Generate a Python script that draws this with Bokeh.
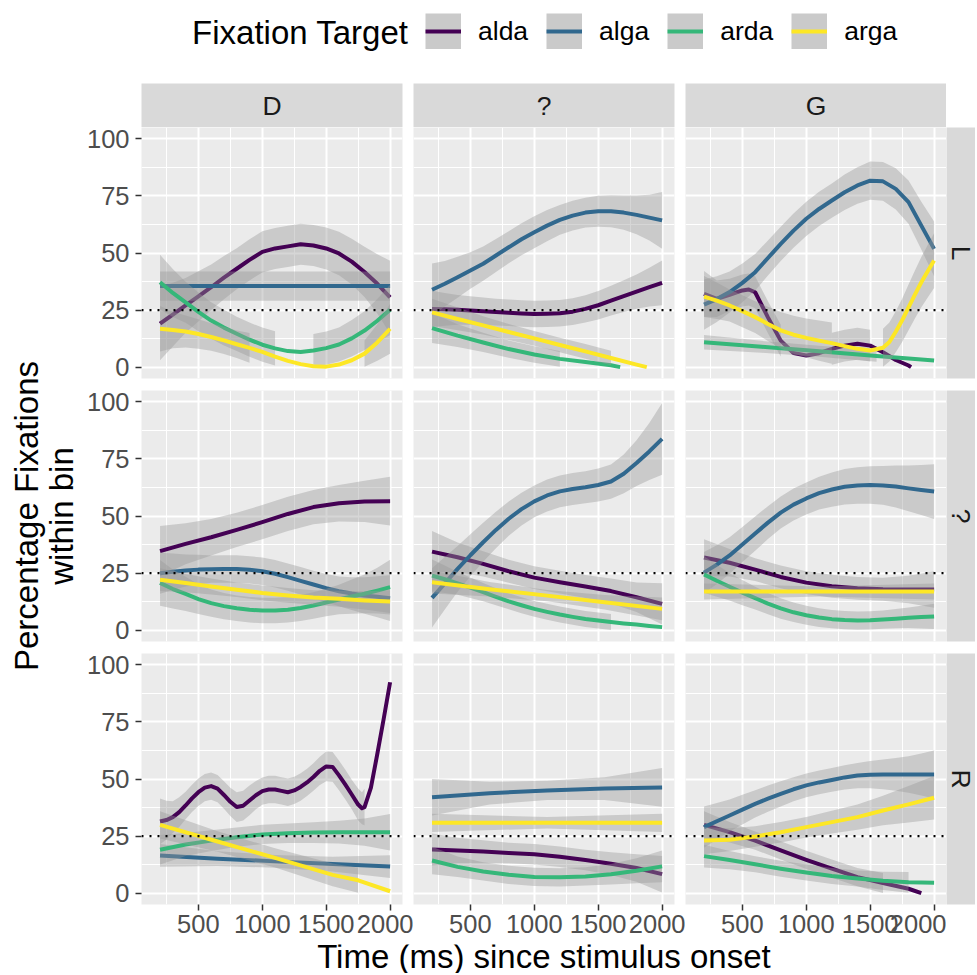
import numpy as np
from bokeh.plotting import figure
from bokeh.models import Range1d, FixedTicker, LinearAxis, Grid, Span, Label, Legend, LegendItem
from bokeh.layouts import column, row
from bokeh.embed import file_html
from bokeh.resources import INLINE

FONT = "Liberation Sans"

# ---------------- data ----------------
TARGETS = ["alda", "alga", "arda", "arga"]
COLORS = ["#440154", "#31688E", "#35B779", "#FDE725"]
COL_FACETS = ["D", "?", "G"]
ROW_FACETS = ["L", "?", "R"]
X_TICKS = [500, 1000, 1500, 2000]
X_MINOR = [250, 750, 1250, 1750]
Y_TICKS = [0, 25, 50, 75, 100]
Y_MINOR = [12.5, 37.5, 62.5, 87.5]
CHANCE = 25

T = [200, 400, 600, 800, 1000, 1200, 1400, 1600, 1800, 2000]
T100 = [200, 300, 400, 500, 600, 700, 800, 900, 1000, 1100, 1200, 1300, 1400, 1500,
        1600, 1700, 1800, 1900, 2000]
T2 = [200, 2000]
T3 = [200, 1100, 2000]
T5 = [200, 650, 1100, 1550, 2000]

# row L, column D
LD_alda = [19, 23, 27, 31, 35, 39.2, 43.1, 47, 50.5, 52, 52.9, 53.8, 53.3, 52, 49.8, 46.2, 41.7, 36.5, 30.6]
LD_alda_se = [16, 14, 12, 11, 10, 9.5, 9, 9, 9, 9, 9, 9, 9, 9.2, 9.5, 10, 11, 13, 16]
LD_alga = [35.5, 35.5]
LD_alga_se = [6.4, 6.4]
LD_arda = [37.2, 32.5, 28.4, 24.2, 20.4, 17.3, 14.6, 12.0, 9.8, 8.2, 7.0, 6.6, 7.3, 8.3, 9.9, 12.6, 16.0, 20.3, 25.1]
LD_arda_se = [12, 10.5, 9, 8.5, 8, 7.8, 7.5, 7.5, 7.5, 7.5, 7.5, 7.5, 7.2, 7.3, 7.5, 8, 8.5, 9.5, 11]
LD_arga = [16.8, 16.3, 15.6, 14.5, 13.2, 11.7, 10.0, 8.4, 6.7, 4.6, 2.7, 1.3, 0.4, 0.2, 1.1, 3.0, 5.9, 10.8, 16.8]
LD_arga_se = [10, 8, 7, 6.5, 6, 6, 6, 6.5, 7, 6, 6, 6, 6, 6, 6, 6, 5.8, 8, 11]

# row L, column ?
LQ_alda = [25.5, 25.3, 25.1, 24.8, 24.5, 24.1, 23.8, 23.5, 23.3, 23.4, 23.6, 24.3, 25.5, 27.1, 29.1, 31.1, 33.1, 35.0, 36.9]
LQ_alda_se = [8, 7.2, 6.5, 6.2, 6, 5.9, 5.8, 5.8, 5.8, 5.8, 5.8, 5.9, 6, 6.2, 6.5, 7, 7.5, 8.5, 9.8]
LQ_alga = [33.9, 36.5, 39.4, 42.3, 45.3, 48.9, 52.5, 56.0, 59.1, 62.0, 64.5, 66.4, 67.7, 68.3, 68.3, 67.7, 66.7, 65.5, 64.3]
LQ_alga_se = [11.5, 10, 9, 8, 7.5, 7.2, 7, 7, 7, 6.8, 6.5, 6.5, 6.5, 6.8, 7, 7.5, 8.5, 10, 12.4]
LQ_arda_t = [200, 400, 600, 800, 1000, 1200, 1400, 1600, 1672]
LQ_arda = [17.1, 13.8, 10.8, 7.9, 5.5, 3.6, 2.2, 0.8, 0.0]
LQ_arda_se = [6.5, 5, 4.2, 3.8, 3.6, 3.5, 3.5, 3.5, 3.5]
LQ_arga_t = [200, 400, 600, 800, 1000, 1200, 1400, 1600, 1800, 1880]
LQ_arga = [24.0, 21.1, 18.3, 15.4, 12.6, 9.7, 6.9, 4.0, 1.1, 0.0]
LQ_arga_se = [6, 5, 4, 3.5, 3.2, 3.2, 3.2, 3.2, 4, 4]

# row L, column G
LG_alda_t = [200, 300, 400, 500, 550, 600, 700, 800, 900, 1000, 1100, 1200, 1300,
             1400, 1500, 1600, 1700, 1800, 1820]
LG_alda = [32.1, 29.9, 31.7, 33.6, 34.0, 32.8, 21.8, 11.6, 6.2, 5.1, 6.1, 8.0, 9.4,
           10.2, 9.4, 6.5, 3.1, 0.7, 0.0]
LG_alda_se = [10, 8, 7, 7, 7, 7, 7, 7, 7, 7, 7, 7, 7, 7, 7, 7, 7, 7, 7]
LG_alga = [27.4, 29.8, 32.9, 36.9, 41.6, 47.8, 54.0, 59.8, 65.0, 69.3, 73.0, 76.6, 79.6, 81.7, 81.4, 78.1, 72.3, 62.0, 51.8]
LG_alga_se = [11, 10, 9, 8.5, 8, 7.7, 7.5, 7.5, 7.5, 7.5, 7.5, 7.8, 8, 8.4, 8.5, 9, 9.5, 10.5, 12]
LG_arda = [10.9, 8.9, 6.9, 4.9, 2.9]
LG_arda_se = [3.2, 2.6, 2.4, 2.6, 3.2]
LG_arga_t = [200, 300, 400, 500, 600, 700, 800, 900, 1000, 1100, 1200, 1300, 1400, 1500,
             1600, 1650, 1700, 1750, 1800, 1850, 1900, 1950, 2000]
LG_arga = [30.9, 29.1, 27.0, 24.5, 21.9, 18.9, 16.1, 14.2, 12.8, 11.6, 10.5, 9.2, 8.0, 7.3,
           8.5, 11.0, 15.5, 20.5, 26.2, 31.8, 37.2, 42.0, 46.7]
LG_arga_se = [9, 8, 7, 7, 7, 7.5, 8, 8.3, 8.5, 8.8, 9, 9.5, 8.8, 8.5,
              8.3, 8.5, 9, 9.5, 10, 10.5, 11, 11.5, 12]

# row ?, column D
QD_alda = [34.6, 37.8, 40.7, 43.9, 47.3, 50.9, 53.9, 55.6, 56.4, 56.5]
QD_alda_se = [11, 9, 8, 7.5, 7.5, 7.5, 7.5, 8, 9, 10.7]
QD_alga = [24.9, 25.6, 26.1, 26.5, 26.7, 26.8, 26.8, 26.4, 25.8, 24.7, 23.2, 21.6, 20.0, 18.4, 17.0, 16.0, 15.2, 14.6, 14.0]
QD_alga_se = [9, 8, 7, 6.5, 6, 6, 6, 6, 6, 6, 6, 6, 6, 6.2, 6.5, 7.2, 8, 9, 10]
QD_arda = [20.7, 18.0, 15.9, 13.6, 11.8, 10.5, 9.6, 8.9, 8.6, 8.6, 8.9, 9.7, 10.8, 12.1, 13.4, 14.7, 15.9, 17.3, 18.8]
QD_arda_se = [10, 8.5, 7.5, 6.5, 6, 5.8, 5.6, 5.6, 5.6, 5.6, 5.6, 5.7, 5.8, 6, 6.5, 7.5, 8.5, 10, 12]
QD_arga = [22.1, 20.6, 19.1, 17.7, 16.3, 15.2, 14.3, 13.7, 13.0, 12.5]
QD_arga_se = [5, 4, 3.5, 3.2, 3.2, 3.2, 3.2, 3.5, 4, 5]

# row ?, column ?
QQ_alda = [34.4, 31.9, 29.0, 25.8, 23.0, 21.0, 19.1, 17.1, 14.4, 11.5]
QQ_alda_se = [9, 6.5, 5.5, 5, 5, 5, 5, 5.5, 6.5, 9]
QQ_alga = [14.1, 20.5, 26.8, 32.8, 38.5, 43.9, 48.8, 53.0, 56.4, 59.0, 60.8, 61.8, 62.6, 63.6, 65.1, 68.5, 73.2, 78.3, 83.8]
QQ_alga_se = [13, 11.5, 10, 9.2, 8.5, 8, 7.5, 7.2, 7, 7, 7, 7, 7, 7.2, 7.5, 8.5, 10, 12.5, 15.7]
QQ_arda = [23.9, 22.3, 20.5, 18.6, 16.6, 14.6, 12.6, 10.9, 9.3, 8.0, 6.8, 5.8, 4.9, 4.2, 3.5, 2.9, 2.4, 1.8, 1.3]
QQ_arda_se = [7, 6, 5, 4.5, 4, 3.7, 3.5, 3.5, 3.5, 3.5, 3.5, 3.5, 3.5, 3.5, 3.5, 3.8, 4, 4.5, 5]
QQ_arga = [21.0, 17.9, 15.1, 12.2, 9.3]
QQ_arga_se = [5, 3.2, 2.5, 3.2, 5]

# row ?, column G
QG_alda = [31.8, 29.5, 26.5, 23.3, 20.8, 19.2, 18.3, 17.9, 17.8, 17.8]
QG_alda_se = [8, 6, 5, 5, 5, 5, 5, 5, 6, 8]
QG_alga = [25.2, 28.7, 32.7, 37.5, 42.3, 47.1, 51.5, 55.0, 57.7, 60.0, 61.6, 62.8, 63.4, 63.6, 63.4, 62.9, 62.1, 61.4, 60.7]
QG_alga_se = [9, 8.5, 8, 7.7, 7.5, 7.2, 7, 7, 7, 7.2, 7.5, 7.8, 8, 8.2, 8.5, 9.2, 10, 11, 12]
QG_arda = [24.4, 21.6, 19.0, 16.4, 14.0, 11.6, 9.5, 7.8, 6.5, 5.5, 4.8, 4.4, 4.2, 4.3, 4.6, 5.0, 5.4, 5.7, 6.0]
QG_arda_se = [8, 7, 6, 5.5, 5, 4.7, 4.5, 4.3, 4.2, 4.1, 4, 4, 4, 4, 4, 4.2, 4.5, 5, 5.5]
QG_arga = [16.9, 16.9, 16.9]
QG_arga_se = [3.5, 2.2, 3.5]

# row R, column D
RD_alda_t = [200, 250, 300, 350, 400, 450, 500, 550, 600, 650,
             700, 750, 800, 850, 900, 950, 1000, 1050, 1100, 1150,
             1200, 1250, 1300, 1350, 1400, 1450, 1500, 1550, 1600, 1650,
             1700, 1750, 1780, 1800, 1850, 1900, 1950, 2000]
RD_alda = [31.4, 32.0, 33.3, 35.5, 38.4, 41.5, 44.2, 46.2, 46.9, 45.8,
           43.0, 40.0, 37.7, 38.3, 40.6, 42.9, 44.7, 45.4, 45.4, 44.8,
           44.2, 45.0, 46.5, 48.5, 50.9, 53.6, 55.5, 55.3, 51.6, 47.5,
           43.2, 38.8, 37.2, 37.7, 46.2, 61.0, 76.4, 92.4]
RD_alda_se = [10, 8.5, 7, 6.5, 6, 6, 6, 6, 6, 6,
              6, 6.2, 6.5, 6.5, 6.5, 6.2, 6, 6, 6, 6,
              6, 6, 6, 6, 6, 6.2, 6.5, 6.5, 6.5, 6.5,
              6.5, 7, 7, 8, 55, 55, 55, 55]
RD_alga = [16.5, 15.1, 13.9, 12.7, 11.6]
RD_alga_se = [5, 3.2, 2.8, 3.2, 5]
RD_arda = [19.0, 21.3, 23.0, 24.5, 25.7, 26.2, 26.5, 26.7, 26.7, 26.7]
RD_arda_se = [6.5, 5, 4.5, 4.2, 4.2, 4.3, 4.5, 5, 6, 8]
RD_arga_t = [200, 650, 1100, 1550, 1750, 2000]
RD_arga = [29.9, 22.6, 15.4, 8.0, 5.6, 0.8]
RD_arga_se = [6, 4.5, 4.2, 5, 5.5, 6.5]

# row R, column ?
RQ_alda = [19.1, 18.7, 18.2, 17.6, 17.0, 15.9, 14.5, 12.9, 11.0, 8.3]
RQ_alda_se = [7, 5.5, 5, 4.5, 4.5, 4.5, 4.5, 5, 6, 8]
RQ_alga = [42.0, 43.8, 45.0, 45.8, 46.3]
RQ_alga_se = [8, 5, 4.2, 5, 8.5]
RQ_arda = [14.3, 11.5, 9.5, 8.0, 7.1, 6.9, 7.3, 8.3, 9.8, 11.7]
RQ_arda_se = [6, 4.5, 4, 4, 4, 4, 4, 4.5, 5.5, 7]
RQ_arga = [30.8, 30.8, 30.8]
RQ_arga_se = [4, 2.5, 4]

# row R, column G
RG_alda_t = [200, 400, 600, 800, 1000, 1200, 1400, 1600, 1800, 1900]
RG_alda = [29.9, 26.7, 23.0, 18.7, 14.6, 10.7, 7.0, 4.4, 1.9, 0.0]
RG_alda_se = [6, 4.5, 4, 4, 4, 4, 4, 4.4, 5, 5]
RG_alga = [28.9, 31.5, 34.0, 36.6, 39.1, 41.4, 43.5, 45.5, 47.2, 48.5, 49.6, 50.7, 51.5, 51.9, 52.0, 52.0, 52.0, 52.0, 52.0]
RG_alga_se = [9, 8, 7, 6.5, 6, 5.7, 5.5, 5.3, 5.2, 5.2, 5.2, 5.3, 5.5, 6, 6.5, 7.2, 8, 9.2, 10.5]
RG_arda = [16.2, 14.5, 12.6, 10.7, 9.0, 7.5, 6.4, 5.4, 4.7, 4.5]
RG_arda_se = [5, 4, 3.5, 3.5, 3.5, 3.5, 3.5, 4, 4.5, 5.5]
RG_arga = [23.0, 23.4, 24.8, 26.7, 28.9, 31.1, 33.3, 36.2, 38.9, 41.8]
RG_arga_se = [6, 5, 4.5, 4.5, 4.5, 5, 5.5, 6.5, 8, 9.5]

SERIES = {
    (0, 0): [(T100, LD_alda, LD_alda_se), (T2, LD_alga, LD_alga_se), (T100, LD_arda, LD_arda_se), (T100, LD_arga, LD_arga_se)],
    (0, 1): [(T100, LQ_alda, LQ_alda_se), (T100, LQ_alga, LQ_alga_se), (LQ_arda_t, LQ_arda, LQ_arda_se), (LQ_arga_t, LQ_arga, LQ_arga_se)],
    (0, 2): [(LG_alda_t, LG_alda, LG_alda_se), (T100, LG_alga, LG_alga_se), (T5, LG_arda, LG_arda_se), (LG_arga_t, LG_arga, LG_arga_se)],
    (1, 0): [(T, QD_alda, QD_alda_se), (T100, QD_alga, QD_alga_se), (T100, QD_arda, QD_arda_se), (T, QD_arga, QD_arga_se)],
    (1, 1): [(T, QQ_alda, QQ_alda_se), (T100, QQ_alga, QQ_alga_se), (T100, QQ_arda, QQ_arda_se), (T5, QQ_arga, QQ_arga_se)],
    (1, 2): [(T, QG_alda, QG_alda_se), (T100, QG_alga, QG_alga_se), (T100, QG_arda, QG_arda_se), (T3, QG_arga, QG_arga_se)],
    (2, 0): [(RD_alda_t, RD_alda, RD_alda_se), (T5, RD_alga, RD_alga_se), (T, RD_arda, RD_arda_se), (RD_arga_t, RD_arga, RD_arga_se)],
    (2, 1): [(T, RQ_alda, RQ_alda_se), (T5, RQ_alga, RQ_alga_se), (T, RQ_arda, RQ_arda_se), (T3, RQ_arga, RQ_arga_se)],
    (2, 2): [(RG_alda_t, RG_alda, RG_alda_se), (T100, RG_alga, RG_alga_se), (T, RG_arda, RG_arda_se), (T, RG_arga, RG_arga_se)],
}

# ---------------- layout constants ----------------
FW, FH = 261, 251
GAP_X, GAP_Y = 11, 12
LEFT_AX = 58
BOTTOM_AX = 40
STRIP_H = 44
RSTRIP_W = 29
LEG_H = 83
YT_W = 83
TOTAL_W = YT_W + (LEFT_AX + FW + GAP_X) + (FW + GAP_X) + FW + RSTRIP_W
TOTAL_H = 973
XT_TOP = LEG_H + STRIP_H + 2 * (FH + GAP_Y) + FH + BOTTOM_AX
XT_H = TOTAL_H - XT_TOP
GRID_W = TOTAL_W - YT_W
X_RANGE = (55, 2097)
Y_RANGE = (-5, 105)
STRIP_FILL = "#D9D9D9"
PANEL_FILL = "#EBEBEB"
TICK_FONT = "25.5px"
TITLE_FONT = "33px"


def base_fig(fw, fh, xr, yr, left=0, right=0, top=0, bottom=0):
    p = figure(frame_width=fw, frame_height=fh, x_range=Range1d(*xr), y_range=Range1d(*yr),
               x_axis_location=None, y_axis_location=None,
               output_backend="svg", toolbar_location=None,
               min_border_left=left, min_border_right=right,
               min_border_top=top, min_border_bottom=bottom)
    p.xgrid.visible = False
    p.ygrid.visible = False
    p.outline_line_color = None
    p.border_fill_color = "white"
    return p


def runs(mask):
    segs, start = [], None
    for i, m in enumerate(mask):
        if m and start is None:
            start = i
        if not m and start is not None:
            segs.append((start, i))
            start = None
    if start is not None:
        segs.append((start, len(mask)))
    return segs


def style_axis(ax, standoff):
    ax.axis_line_color = None
    ax.major_tick_line_color = "#333333"
    ax.major_tick_line_width = 1.5
    ax.major_tick_in = 0
    ax.major_tick_out = 6
    ax.minor_tick_line_color = None
    ax.major_label_text_font = FONT
    ax.major_label_text_font_size = TICK_FONT
    ax.major_label_text_color = "#4D4D4D"
    ax.major_label_standoff = standoff


def make_panel(r, c):
    p = base_fig(FW, FH, X_RANGE, Y_RANGE,
                 left=LEFT_AX if c == 0 else 0,
                 right=GAP_X if c < 2 else 0,
                 bottom=GAP_Y if r < 2 else BOTTOM_AX)
    p.background_fill_color = PANEL_FILL
    p.add_layout(Grid(dimension=0, ticker=FixedTicker(ticks=X_TICKS, minor_ticks=X_MINOR),
                      grid_line_color="white", grid_line_width=2,
                      minor_grid_line_color="white", minor_grid_line_width=1), "center")
    p.add_layout(Grid(dimension=1, ticker=FixedTicker(ticks=Y_TICKS, minor_ticks=Y_MINOR),
                      grid_line_color="white", grid_line_width=2,
                      minor_grid_line_color="white", minor_grid_line_width=1), "center")
    if c == 0:
        ax = LinearAxis(ticker=FixedTicker(ticks=Y_TICKS))
        style_axis(ax, 6)
        p.add_layout(ax, "left")
    if r == 2:
        ax = LinearAxis(ticker=FixedTicker(ticks=X_TICKS))
        style_axis(ax, 4)
        p.add_layout(ax, "below")
    for (t, fit, se), color in zip(SERIES[(r, c)], COLORS):
        t = np.asarray(t, float)
        fit = np.asarray(fit, float)
        se = np.asarray(se, float)
        lo, hi = fit - se, fit + se
        ok = (lo >= 0) & (hi <= 100)
        for a, b in runs(ok):
            if b - a >= 2:
                p.varea(x=t[a:b], y1=lo[a:b], y2=hi[a:b], fill_color="#999999",
                        fill_alpha=0.4)
        p.line(t, fit, line_color=color, line_width=4, line_join="round")
    p.add_layout(Span(location=CHANCE, dimension="width", line_color="black",
                      line_width=2.2, line_dash="2 6"))
    return p


def make_tstrip(c):
    p = base_fig(FW, STRIP_H, (0, 1), (0, 1),
                 left=LEFT_AX if c == 0 else 0, right=GAP_X if c < 2 else 0)
    p.background_fill_color = STRIP_FILL
    p.add_layout(Label(x=0.5, y=0.5, text=COL_FACETS[c], text_align="center",
                       text_baseline="middle", text_font=FONT, text_font_size="26.5px",
                       text_color="#1A1A1A"))
    return p


def make_rstrip(r):
    p = base_fig(RSTRIP_W, FH, (0, 1), (0, 1),
                 bottom=GAP_Y if r < 2 else BOTTOM_AX)
    p.background_fill_color = STRIP_FILL
    p.add_layout(Label(x=0.5, y=0.5, text=ROW_FACETS[r], angle=-np.pi / 2,
                       text_align="center", text_baseline="middle", text_font=FONT,
                       text_font_size="26.5px", text_color="#1A1A1A"))
    return p


# legend figure
leg = base_fig(TOTAL_W, LEG_H, (0, TOTAL_W), (LEG_H, 0))
leg.background_fill_color = "white"
items = []
for name, color in zip(TARGETS, COLORS):
    r_bg = leg.line(x=[-60, -50], y=[-60, -60], line_color="#CACACA", line_width=36)
    r_ln = leg.line(x=[-60, -50], y=[-60, -60], line_color=color, line_width=4)
    items.append(LegendItem(label=name, renderers=[r_bg, r_ln]))
legend = Legend(items=items, orientation="horizontal", location=(425, 34),
                glyph_width=36, glyph_height=36, label_standoff=17, spacing=18,
                padding=0, margin=0, border_line_color=None, background_fill_alpha=0,
                label_text_font=FONT, label_text_font_size="26.5px",
                label_text_color="black")
leg.add_layout(legend, "center")
leg.add_layout(Label(x=408, y=31.5, text="Fixation Target", text_align="right",
                     text_baseline="middle", text_font=FONT, text_font_size=TITLE_FONT,
                     text_color="black"))

# y title figure
YT_H = TOTAL_H - LEG_H
yt = base_fig(YT_W, YT_H, (0, YT_W), (YT_H + LEG_H, LEG_H))
yt.background_fill_color = "white"
for xx, txt in [(25.5, "Percentage Fixations"), (60.5, "within bin")]:
    yt.add_layout(Label(x=xx, y=515.5, text=txt, angle=np.pi / 2, text_align="center",
                        text_baseline="middle", text_font=FONT, text_font_size=TITLE_FONT,
                        text_color="black"))

# x title figure
xt = base_fig(GRID_W, XT_H, (YT_W, YT_W + GRID_W), (XT_TOP + XT_H, XT_TOP))
xt.background_fill_color = "white"
xt.add_layout(Label(x=543.4, y=956, text="Time (ms) since stimulus onset", text_align="center",
                    text_baseline="middle", text_font=FONT, text_font_size=TITLE_FONT,
                    text_color="black"))

strip_row = row(*[make_tstrip(c) for c in range(3)])
panel_rows = [row(*([make_panel(r, c) for c in range(3)] + [make_rstrip(r)])) for r in range(3)]
grid_col = column(strip_row, *panel_rows, xt)
layout = column(leg, row(yt, grid_col))

open("out.html", "w").write(file_html(layout, INLINE))
